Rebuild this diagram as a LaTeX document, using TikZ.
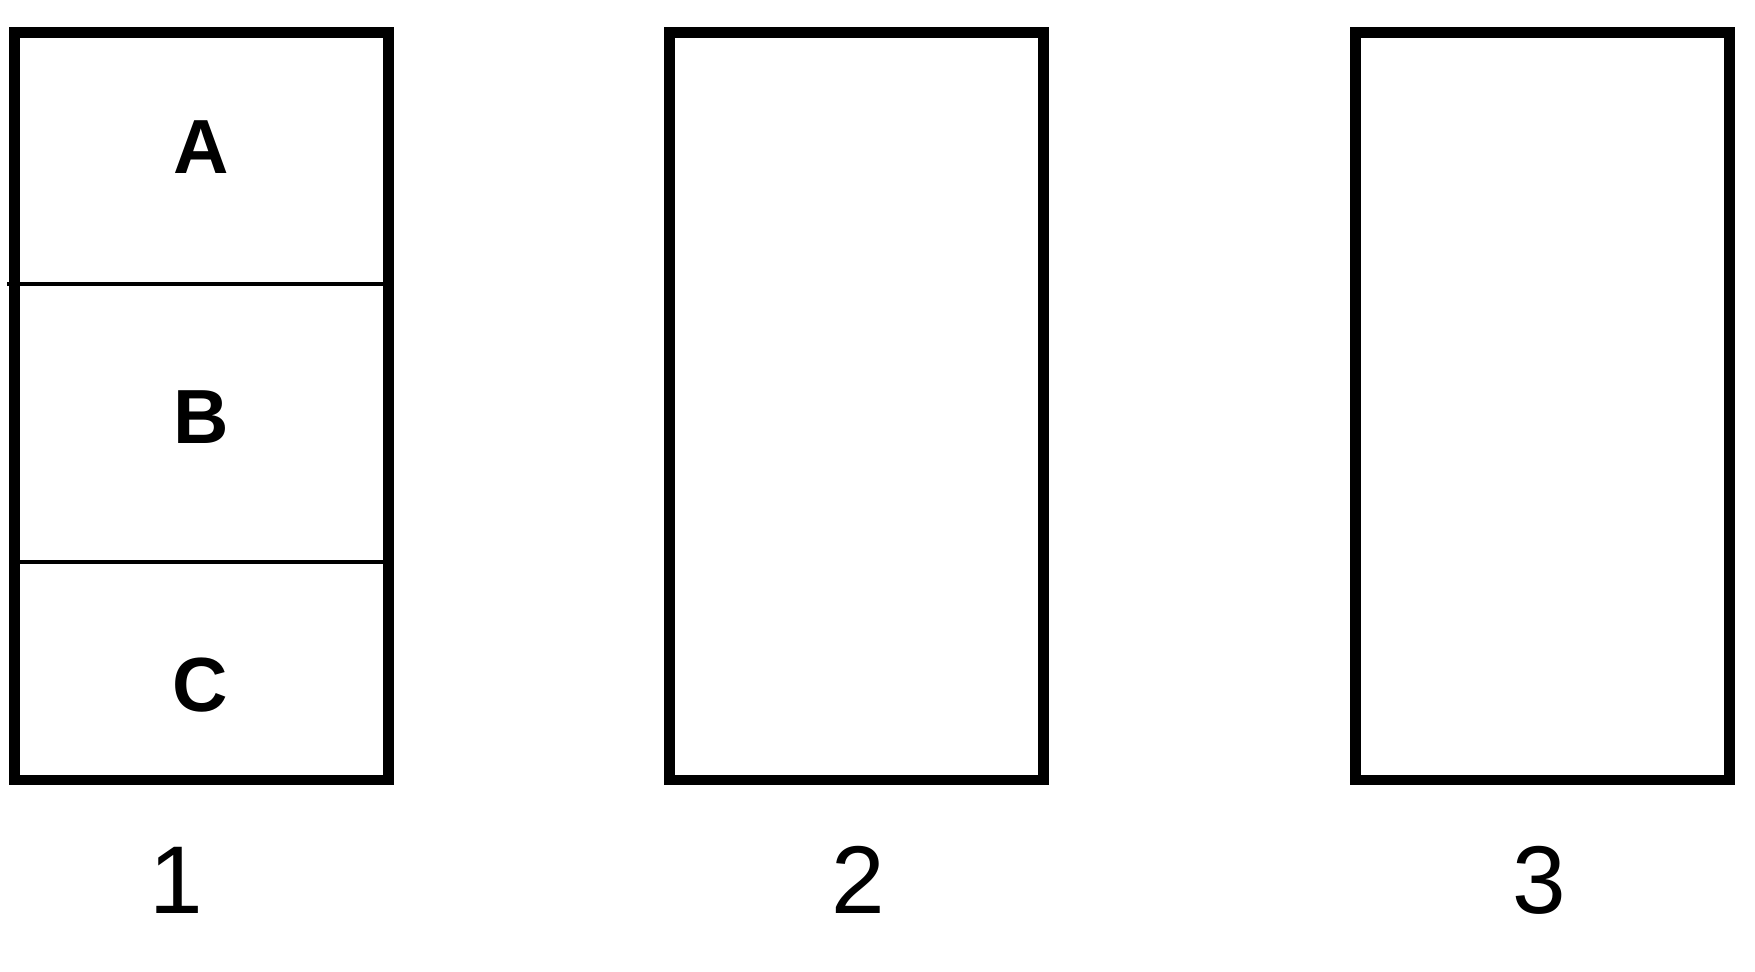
\documentclass[tikz,border=0pt]{standalone}
\usepackage{fontspec}
\setmainfont{Liberation Sans}
\usepackage{tikz}

\begin{document}
\begin{tikzpicture}[x=0.02cm, y=-0.02cm,
        panel/.style = {draw, line width = 6.2pt, inner sep = 0pt,
            minimum width = 7.49cm, minimum height = 14.95cm},
        part/.style = {font = \fontsize{43.7}{50}\selectfont\bfseries},
        num/.style = {font = \fontsize{54.8}{60}\selectfont}]
            \useasboundingbox (0, 0) rectangle (1755, 971);

            \node[panel] (p1) at (201.5, 406.3) {};
            \node[panel] (p2) at (856.3, 406.3) {};
            \node[panel] (p3) at (1542.3, 406.3) {};

            \coordinate (ab) at (7, 284);
            \coordinate (bc) at (14, 562);
            \draw[line width = 2.8pt] (ab) -- (ab -| p1.east);
            \draw[line width = 2.8pt] (bc) -- (bc -| p1.east);

            \node[part] (a) at (201, 147) {A};
            \node[part] (b) at (201, 417) {B};
            \node[part] (c) at (200, 685) {C};

            \node[num] (n1) at (176, 880) {1};
            \node[num] (n2) at (858, 880) {2};
            \node[num] (n3) at (1539, 880) {3};
        \end{tikzpicture}
\end{document}
